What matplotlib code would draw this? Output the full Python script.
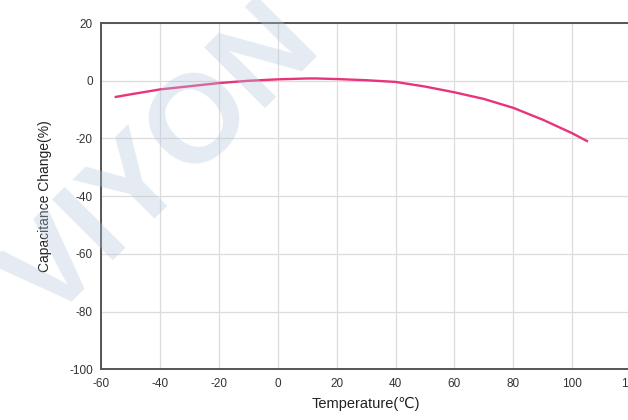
import matplotlib.pyplot as plt

plt.rcParams['font.family'] = ['Liberation Sans', 'DejaVu Sans']
plt.rcParams['axes.unicode_minus'] = False

temperature = [-55, -50, -40, -30, -20, -10, 0, 10, 13, 20, 30, 40, 50, 60, 70, 80, 90, 100, 105]
cap_change = [-5.6, -4.7, -3.0, -1.9, -0.8, 0.0, 0.5, 0.8, 0.8, 0.6, 0.2, -0.4, -2.0, -4.0, -6.3, -9.4, -13.5, -18.2, -20.9]

xticks = [-60, -40, -20, 0, 20, 40, 60, 80, 100, 120]
yticks = [-100, -80, -60, -40, -20, 0, 20]

fig = plt.figure(figsize=[6.28, 4.2], dpi=100)
ax = fig.add_axes([0.161, 0.121, 0.844, 0.824])

ax.plot(temperature, cap_change, color='#e8347a', linewidth=1.7, zorder=3)

ax.set_xlim(-60, 120)
ax.set_ylim(-100, 20)
ax.set_xticks(xticks)
ax.set_yticks(yticks)
ax.grid(True, color='#dcdcdc', linewidth=0.9)
ax.tick_params(length=0, labelsize=8.5, colors='#333333', pad=6)

for side in ['left', 'bottom', 'top']:
    ax.spines[side].set_color('#555555')
    ax.spines[side].set_linewidth(1.4)
ax.spines['right'].set_visible(False)

ax.set_xlabel('Temperature(℃)', fontsize=10.5, color='#222222', labelpad=5)
ax.set_ylabel('Capacitance Change(%)', fontsize=10, color='#222222', labelpad=12)

# faint watermark
fig.text(0.26, 0.61, 'VIYON', fontsize=90, fontweight='bold', color='#b4c6dc',
         alpha=0.35, rotation=45, ha='center', va='center', zorder=10)

fig.savefig('out.png', dpi=100)
